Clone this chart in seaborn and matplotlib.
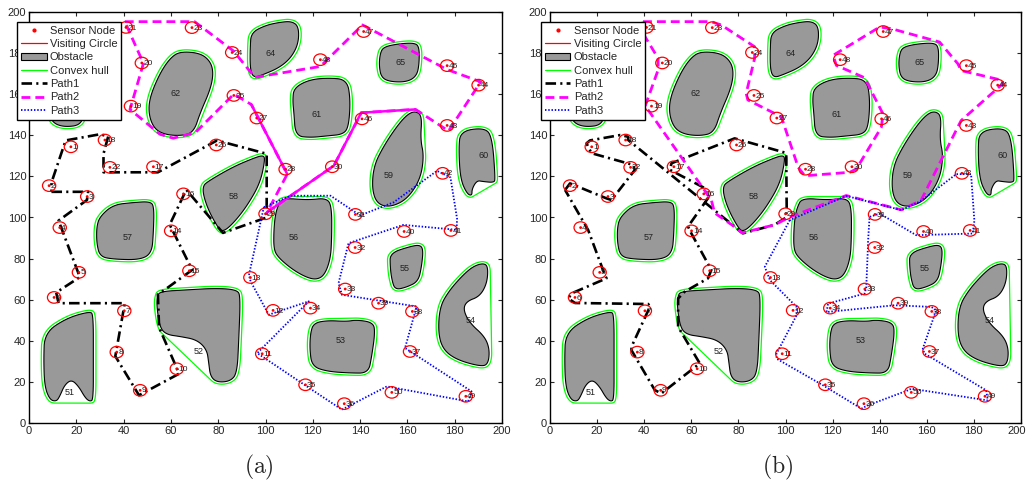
import numpy as np
import matplotlib
matplotlib.use("Agg")
import matplotlib.pyplot as plt
import seaborn as sns
import pandas as pd
from matplotlib.patches import Polygon, Circle, Patch
from matplotlib.lines import Line2D
from matplotlib.transforms import ScaledTranslation

sns.set_style("white")
plt.rcParams["font.family"] = ["Liberation Sans", "DejaVu Sans"]
plt.rcParams["mathtext.fontset"] = "cm"

# ---------------- sensor nodes (id = index + 1) ----------------
node_x = [17.7, 8.5, 24.6, 13.0, 21.1, 10.6, 40.3, 37.1, 47.0, 62.5,
          98.6, 103.2, 93.6, 60.1, 67.8, 65.3, 52.6, 32.1, 43.1, 47.7,
          41.0, 34.2, 68.9, 85.9, 86.6, 79.2, 96.3, 108.5, 100.0, 128.2,
          138.0, 137.9, 133.7, 119.0, 116.9, 133.3, 161.1, 162.1, 147.8, 158.6,
          178.4, 174.9, 176.8, 190.1, 176.8, 140.8, 141.5, 123.2, 184.7, 153.4]
node_y = [134.4, 115.5, 110.2, 95.1, 73.3, 61.1, 54.6, 34.5, 15.9, 26.4,
          33.7, 54.8, 70.8, 93.5, 74.1, 111.5, 124.7, 137.7, 154.2, 175.2,
          192.5, 124.4, 192.4, 180.3, 159.4, 135.3, 148.4, 123.5, 101.8, 124.7,
          101.5, 85.4, 65.2, 55.9, 18.6, 9.4, 34.8, 54.3, 58.3, 93.2,
          93.7, 121.5, 144.8, 164.4, 173.9, 148.0, 190.5, 176.8, 13.0, 14.9]
circle_radius = 2.8

# ---------------- obstacles (outline vertices) ----------------
obstacle_51 = [(6.6, 43.8), (15.8, 51), (25.7, 54.3), (27.2, 52.7), (27.2, 30.8), (27.2, 11.3),
               (25.7, 10.5), (23.8, 12.2), (21, 17.8), (18, 21.1), (15.1, 18.6), (13, 13),
               (11.6, 10.5), (8.8, 11.3), (6.6, 17.8), (6.2, 30.8)]
obstacle_52 = [(55.4, 64), (66.8, 64.8), (79.5, 65.6), (88, 64.8), (89.4, 61.6), (88.7, 40.5),
               (88, 24.3), (85.1, 20.3), (79.5, 19.8), (76.7, 22.7), (76, 29.2), (75.2, 35.7),
               (71, 40.5), (63.9, 42.1), (58.3, 43), (55.4, 46.2), (54, 56.7), (54.3, 61.6)]
obstacle_53 = [(120.4, 48.6), (126, 49.9), (134.4, 49.4), (138.6, 50.2), (145.6, 48.9), (146.3, 43.8),
               (144.9, 32.4), (143.5, 24.3), (135.8, 24.3), (126, 25.1), (119.7, 27.6), (118.7, 35.7),
               (119, 43.8)]
obstacle_54 = [(192, 77.8), (194.1, 76.2), (193.7, 68.1), (190.6, 61.6), (185, 59.2), (183.6, 55.1),
               (186.4, 48.6), (192.7, 42.1), (194.8, 35.7), (194.1, 28.4), (190.6, 27.6), (180.8, 30.8),
               (175.1, 35.7), (173, 43.8), (173.7, 56.7), (177.9, 64.8), (183.6, 72.1), (187.8, 76.2)]
obstacle_55 = [(152.7, 82.7), (161.1, 85.9), (165.3, 86.7), (166.7, 84.3), (166, 76.2), (164.6, 68.9),
               (159.7, 66.1), (154.8, 64.8), (153.4, 69.7), (152.7, 76.2)]
obstacle_56 = [(107, 109.5), (118, 108.5), (126, 109.5), (128, 105), (128, 90), (127.5, 80),
               (125, 72), (121.5, 69.7), (117, 71), (111, 75), (105, 81), (103.5, 85),
               (103.5, 93), (104, 100), (105, 105)]
obstacle_57 = [(30, 100.5), (35.6, 106.2), (44.1, 107.3), (51.2, 107.8), (52.9, 105.3), (52.6, 92.4),
               (51.9, 82.7), (47, 79.4), (35.6, 79.7), (30, 81), (28.6, 87.5), (28.6, 95.6)]
obstacle_58 = [(99.1, 130.4), (99.8, 128), (97.7, 116.6), (92, 105.3), (86.4, 97.2), (82.2, 93.1),
               (80, 94.7), (75.1, 105.3), (73, 115), (76.5, 118.2), (86.4, 124.7), (94.8, 128.8)]
obstacle_59 = [(163.4, 151.8), (166.2, 149.4), (165.5, 138), (167, 130), (165.5, 118.7), (160, 109),
               (152.8, 105), (147.2, 106.6), (145, 113.9), (145.8, 125.2), (150, 134.8), (155.6, 144.5),
               (160, 150.2)]
obstacle_60 = [(182.4, 142), (192.3, 143.7), (195.8, 139.7), (197.2, 118.7), (196.5, 117), (192, 117.5),
               (189.4, 118), (187.3, 113.9), (187.3, 110.6), (185.2, 111.5), (182.4, 118.7), (181.7, 133.2)]
obstacle_61 = [(112, 163), (118.3, 167), (126.8, 168), (134.5, 167), (135.9, 157.4), (135.2, 144.5),
               (133, 140.5), (126, 139.7), (119, 138.9), (112.7, 139.7), (112, 151), (111.5, 157)]
obstacle_62 = [(63.9, 180.8), (72.4, 180), (76.7, 176), (78, 170.3), (76.7, 162.3), (72.4, 151),
               (69.6, 141.3), (63.9, 139.7), (56.9, 140.5), (52.6, 143.7), (50.5, 151), (51.2, 159),
               (55.4, 170.3), (59.7, 177.6)]
obstacle_63 = [(8, 152), (9, 162), (13, 170), (20, 172), (24, 165), (23.5, 152), (22, 145),
               (15, 144), (10, 146)]
obstacle_64 = [(94, 190), (100, 193.5), (106, 195), (111, 195.5), (114, 193), (114, 185),
               (111, 178), (106, 173), (99, 169.5), (95, 168), (93.5, 172), (93.5, 183)]
obstacle_65 = [(150, 183), (156, 184.5), (163, 185), (165, 183), (165, 175), (164, 169),
               (160, 166), (153, 166), (149, 168), (148, 174), (148.5, 180)]

obstacle_ids = [51, 52, 53, 54, 55, 56, 57, 58, 59, 60, 61, 62, 63, 64, 65]
obstacle_label_x = [17.3, 71.7, 131.9, 186.7, 159.0, 112.0, 41.7, 86.4, 152.0, 192.3, 121.8, 61.8, 16.0, 102.0, 157.0]
obstacle_label_y = [14.6, 34.8, 40.0, 49.8, 75.0, 90.3, 90.3, 110.1, 120.3, 130.0, 150.2, 160.2, 160.0, 180.0, 175.2]

# ---------------- tours, panel (a) ----------------
path1_a = [(9.5, 112.5), (25, 112.5), (24.5, 108.5), (12.5, 98.5), (21.5, 71), (11.5, 63.5),
           (12.5, 58.3), (40.5, 58.3), (36.5, 32.5), (46.5, 13.5), (63.5, 24), (55, 46.5),
           (54.5, 62.5), (57, 64.5), (69, 74.5), (59.5, 96.5), (66.5, 113.5), (82, 92.5),
           (100.5, 100), (100.5, 131), (79.5, 137.5), (54.5, 122), (31.5, 122), (31.5, 131),
           (33.5, 139.5), (30, 140.5), (15.5, 137.5), (9.5, 117), (9.5, 112.5)]
path2_a = [(40.5, 195.3), (70, 195.3), (86.5, 181), (95.5, 168.2), (123.2, 173.5), (141, 193.7),
           (176.8, 172), (191, 166), (177.4, 142.1), (163.4, 152.6), (140.5, 151), (128.9, 125.2),
           (100.7, 102.6), (109.2, 121.1), (94, 155), (86.6, 160), (70.3, 141.3), (61, 138.6),
           (55.4, 140.5), (42.7, 152.6), (48.4, 175), (40.5, 195.3)]
path2_a_solid = [[(163.4, 152.6), (140.5, 151), (128.9, 125.2), (100.7, 102.6)],
                 [(109.2, 121.1), (94, 155)]]
path3_a = [(99.3, 105), (110.6, 110.6), (127.5, 110.6), (140, 101), (154.2, 107.4), (172.5, 122.7),
           (178.2, 119.5), (181, 99.4), (180.8, 94), (158.3, 96.4), (135.1, 87.5), (130.9, 68.1),
           (132.3, 62.4), (163.9, 56.7), (159, 36.5), (187.1, 15.4), (185.7, 10.5), (151.3, 17.8),
           (132.3, 6.5), (115.4, 19.4), (96.5, 34), (118.3, 59.2), (101.4, 52.7), (93.7, 68.9),
           (93, 72), (99.3, 105)]

# ---------------- tours, panel (b) ----------------
path1_b = [(6.4, 113.4), (8.5, 116.6), (24, 109.3), (26.1, 108.5), (36, 123.1), (35.3, 125.6),
           (17.6, 131.3), (15.5, 136.1), (17, 137.5), (29.7, 140.1), (33.2, 139.3), (33.2, 137.7),
           (81.9, 92.3), (95.3, 96.4), (100.3, 100), (100.5, 105.3), (100.3, 131.4), (78.4, 138.5),
           (51.6, 126.4), (50.9, 123.2), (65.7, 114.3), (67.1, 109.4), (58.6, 95.6), (60, 92.3),
           (68.5, 74.5), (67.1, 70.4), (57.2, 63.9), (54.4, 60.6), (54.4, 46.8), (63.6, 29),
           (47.3, 14.4), (44.5, 16), (34.6, 35.4), (34.6, 37.1), (42.4, 56.5), (41.7, 57.9),
           (10.6, 58.4), (7.8, 60.6), (9.2, 63.1), (24, 70.4), (23.3, 72), (16.2, 93.9), (6.4, 113.4)]
path2_b = [(39.5, 195.3), (68.4, 195.3), (72.7, 193.7), (86.9, 183.1), (86.9, 177.5), (83.3, 160.4),
           (84, 157.2), (95.3, 150.7), (98.3, 148.8), (105.4, 124.4), (108.2, 120.3), (127.3, 122),
           (130.1, 123.6), (140.7, 143.9), (141.4, 150.4), (133.6, 168), (121.6, 174), (120.2, 178.9),
           (140, 192.7), (144.9, 191.9), (165.4, 185.4), (173.2, 174.8), (174.6, 171.5), (192.2, 166.7),
           (192.2, 165), (174.6, 147.2), (173.2, 144.1), (157.6, 108.4), (149.2, 103.7), (125.8, 110.7),
           (101.8, 100.2), (95.3, 96.4), (81.5, 92.5), (78.4, 95.5), (69.9, 102.2), (68.5, 108.5),
           (41.7, 152.3), (40.3, 153.9), (45.9, 171.8), (45.9, 177.5), (39.5, 189.6), (39.5, 195.3)]
path3_b = [(101.8, 98.7), (91.2, 76), (93.4, 69.5), (104.7, 56.5), (104.7, 52.4), (96.2, 33.8),
           (96.2, 31.3), (116, 18.3), (132.2, 7), (135, 8.6), (152, 15.9), (153.4, 16.7),
           (185.9, 11), (185.2, 15.9), (159, 33.8), (158.3, 36.2), (164, 54.9), (161.9, 56.5),
           (146.3, 57.3), (117.4, 54), (118.1, 58.1), (133.6, 63), (134.3, 66.2), (135, 85.7),
           (135, 87.3), (135.7, 100.3), (140, 101.9), (155.5, 91.4), (179.5, 92.2), (180.2, 98.4),
           (178.8, 121.1), (172.5, 121.1), (157.6, 108.1), (149.2, 103.6), (125.8, 110.5), (101.8, 98.7)]

ticks = [0, 20, 40, 60, 80, 100, 120, 140, 160, 180, 200]

OBST_FACE = "#999999"
HULL_GREEN = "#00ff00"
PATH1_STYLE = dict(color="black", lw=1.9, dashes=(4, 1.6, 0.8, 1.6))
PATH2_STYLE = dict(color="#ff00ff", lw=2.0, dashes=(3.2, 1.8))
PATH3_STYLE = dict(color="#0000ff", lw=1.3, dashes=(0.8, 1.0))


def chaikin(points, rounds=3):
    pts = np.asarray(points, dtype=float)
    for _ in range(rounds):
        nxt = np.roll(pts, -1, axis=0)
        q = 0.75 * pts + 0.25 * nxt
        r = 0.25 * pts + 0.75 * nxt
        pts = np.empty((2 * len(pts), 2))
        pts[0::2] = q
        pts[1::2] = r
    return pts


def convex_hull(points):
    pts = sorted(set(map(tuple, np.round(points, 4))))

    def cross(o, a, b):
        return (a[0] - o[0]) * (b[1] - o[1]) - (a[1] - o[1]) * (b[0] - o[0])

    lower, upper = [], []
    for p in pts:
        while len(lower) >= 2 and cross(lower[-2], lower[-1], p) <= 0:
            lower.pop()
        lower.append(p)
    for p in reversed(pts):
        while len(upper) >= 2 and cross(upper[-2], upper[-1], p) <= 0:
            upper.pop()
        upper.append(p)
    return np.array(lower[:-1] + upper[:-1])


def rounded_hull(outline, margin=1.1):
    ang = np.linspace(0, 2 * np.pi, 16, endpoint=False)
    ring = np.c_[np.cos(ang), np.sin(ang)] * margin
    cloud = (outline[:, None, :] + ring[None, :, :]).reshape(-1, 2)
    return convex_hull(cloud)


obstacles = [obstacle_51, obstacle_52, obstacle_53, obstacle_54, obstacle_55,
             obstacle_56, obstacle_57, obstacle_58, obstacle_59, obstacle_60,
             obstacle_61, obstacle_62, obstacle_63, obstacle_64, obstacle_65]

nodes = pd.DataFrame({"x": node_x, "y": node_y, "id": np.arange(1, len(node_x) + 1)})


def draw_tour(ax, pts, style, z):
    df = pd.DataFrame(pts, columns=["x", "y"])
    sns.lineplot(data=df, x="x", y="y", sort=False, estimator=None, ax=ax,
                 color=style["color"], lw=style["lw"], dashes=False, zorder=z)
    ln = ax.get_lines()[-1]
    ln.set_dashes(style["dashes"])
    ln.set_solid_capstyle("butt")


def draw_panel(ax, p1, p2, p3, p2_solid=()):
    for outline in obstacles:
        smooth = chaikin(outline)
        ax.add_patch(Polygon(rounded_hull(smooth), closed=True, fill=False,
                             edgecolor=HULL_GREEN, lw=0.9, zorder=2))
        ax.add_patch(Polygon(smooth, closed=True, facecolor=OBST_FACE,
                             edgecolor="black", lw=0.8, zorder=3))
    for oid, lx, ly in zip(obstacle_ids, obstacle_label_x, obstacle_label_y):
        ax.text(lx, ly, str(oid), fontsize=6.5, ha="center", va="center",
                color="#222222", zorder=4)

    draw_tour(ax, p1, PATH1_STYLE, 5)
    draw_tour(ax, p2, PATH2_STYLE, 5)
    for seg in p2_solid:
        sx, sy = zip(*seg)
        ax.plot(sx, sy, color=PATH2_STYLE["color"], lw=1.8, zorder=5)
    draw_tour(ax, p3, PATH3_STYLE, 5)

    for x, y in zip(node_x, node_y):
        ax.add_patch(Circle((x, y), circle_radius, fill=False, edgecolor="red",
                            lw=0.9, zorder=6))
    sns.scatterplot(data=nodes, x="x", y="y", ax=ax, color="red", s=4,
                    marker="o", edgecolor="none", zorder=7, legend=False)
    for x, y, i in zip(node_x, node_y, nodes["id"]):
        ax.text(x + 0.6, y - 0.3, str(i), fontsize=6, ha="left", va="center",
                color="#222222", zorder=7)

    ax.set_xlim(0, 200)
    ax.set_ylim(0, 200)
    ax.set_xticks(ticks)
    ax.set_yticks(ticks)
    ax.set_xlabel("")
    ax.set_ylabel("")
    ax.tick_params(direction="in", length=3, width=0.8, labelsize=8,
                   top=True, right=True, bottom=True, left=True, pad=2)
    for sp in ax.spines.values():
        sp.set_visible(True)
        sp.set_color("black")
        sp.set_linewidth(1.0)


def add_legend(ax, anchor_x):
    handles = [
        Line2D([], [], ls="none", marker="o", markersize=2, color="red"),
        Line2D([], [], color="red", lw=0.9),
        Patch(facecolor=OBST_FACE, edgecolor="black", lw=0.8),
        Line2D([], [], color=HULL_GREEN, lw=0.9),
        Line2D([], [], color="black", lw=1.9, dashes=PATH1_STYLE["dashes"]),
        Line2D([], [], color="#ff00ff", lw=2.0, dashes=PATH2_STYLE["dashes"]),
        Line2D([], [], color="#0000ff", lw=1.3, dashes=PATH3_STYLE["dashes"]),
    ]
    labels = ["Sensor Node", "Visiting Circle", "Obstacle", "Convex hull",
              "Path1", "Path2", "Path3"]
    leg = ax.legend(handles, labels, loc="upper left", bbox_to_anchor=(anchor_x, 0.976),
                    fontsize=8, frameon=True, fancybox=False, framealpha=1,
                    edgecolor="black", borderpad=0.35, labelspacing=0.3,
                    handlelength=2.3, handletextpad=0.3, borderaxespad=0)
    leg.get_frame().set_linewidth(1.0)
    leg.set_zorder(20)


fig = plt.figure(figsize=(10.27, 4.88), dpi=100)
ax_a = fig.add_axes([29 / 1027, 65 / 488, 473 / 1027, 411 / 488])
ax_b = fig.add_axes([550 / 1027, 65 / 488, 471 / 1027, 411 / 488])

draw_panel(ax_a, path1_a, path2_a, path3_a, path2_a_solid)
draw_panel(ax_b, path1_b, path2_b, path3_b)
add_legend(ax_a, -0.025)
add_legend(ax_b, -0.019)

# keep the last x tick label of the right panel inside the figure
fig.canvas.draw()
last = ax_b.get_xticklabels()[-1]
last.set_transform(last.get_transform() + ScaledTranslation(-4 / 100, 0, fig.dpi_scale_trans))

fig.text(259 / 1027, 1 - 467 / 488, r"$\mathrm{(a)}$", fontsize=17, ha="center", va="center")
fig.text(778 / 1027, 1 - 467 / 488, r"$\mathrm{(b)}$", fontsize=17, ha="center", va="center")

fig.savefig("out.png", dpi=100, facecolor="white")
